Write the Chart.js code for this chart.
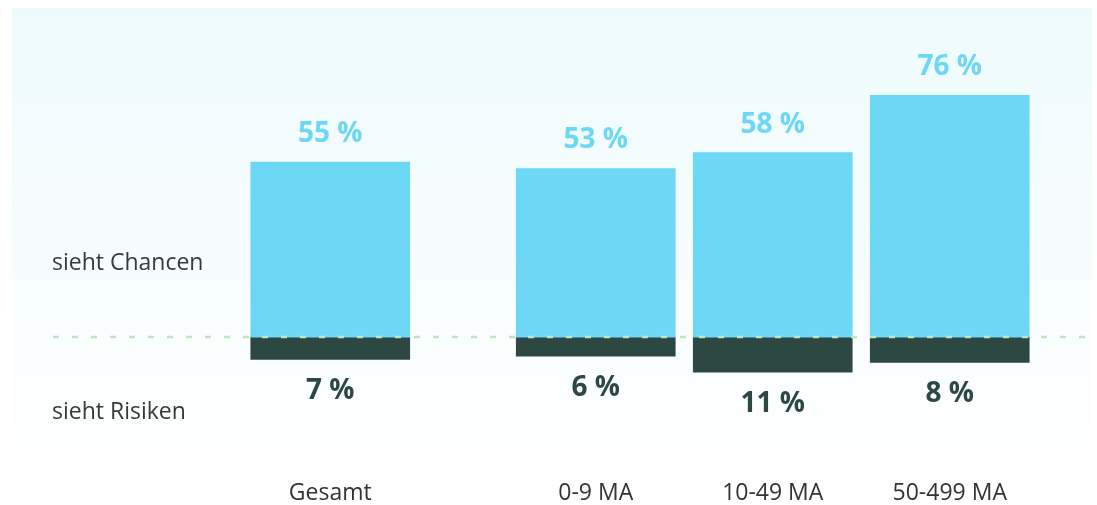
<!DOCTYPE html>
<html>
<head>
<meta charset="utf-8">
<script src="https://cdn.jsdelivr.net/npm/chart.js@4.4.1/dist/chart.umd.min.js"></script>
<style>
	html, body { margin: 0; padding: 0; background: #ffffff; }
	#chart-holder { width: 1097px; height: 505px; }
</style>
</head>
<body>
<div id="chart-holder"><canvas id="c-chancen" width="1097" height="505"></canvas></div>
<script>

let categories = ["Gesamt", "0-9 MA", "10-49 MA", "50-499 MA"];
let chancenValues = [55, 53, 58, 76];
let risikenValues = [7, 6, 11, 8];
let rowLabels = ["sieht Chancen", "sieht Risiken"];

let colorChancen = "#6dd8f6";
let colorRisiken = "#2d4843";


// half-width slots: two empty slots after "Gesamt", one between the others
let slotLabels = [];
let slotChancen = [];
let slotRisiken = [];

categories.forEach(function (cat, i) {
	slotLabels.push(cat);
	slotChancen.push(chancenValues[i]);
	slotRisiken.push(-risikenValues[i]);
	let spacers = (i == 0) ? 2 : (i < categories.length - 1 ? 1 : 0);
	for (let k = 0; k < spacers; k++) {
		slotLabels.push("");
		slotChancen.push(null);
		slotRisiken.push(null);
	}
});


let backgroundPlugin = {
	id: "panelBackground",
	beforeDraw: function (chart) {
		let ctx = chart.ctx;
		let grad = ctx.createLinearGradient(0, 8, 0, 480);
		grad.addColorStop(0, "#eefbfd");
		grad.addColorStop(1, "#ffffff");
		ctx.save();
		ctx.fillStyle = grad;
		ctx.fillRect(12, 8, 1080, 490);
		ctx.restore();
	}
};


let overlayPlugin = {
	id: "valueLabels",
	afterDatasetsDraw: function (chart) {
		let ctx = chart.ctx;
		let zeroY = chart.scales.y.getPixelForValue(0);

		ctx.save();

		// dashed zero line
		ctx.strokeStyle = "#bfe6bd";
		ctx.lineWidth = 2.5;
		ctx.setLineDash([6, 13]);
		ctx.beginPath();
		ctx.moveTo(53, zeroY);
		ctx.lineTo(1092, zeroY);
		ctx.stroke();
		ctx.setLineDash([]);

		// row labels on the left
		ctx.font = "23px 'Open Sans'";
		ctx.fillStyle = "#333b3b";
		ctx.textAlign = "left";
		ctx.textBaseline = "middle";
		ctx.fillText(rowLabels[0], 52, zeroY - 74);
		ctx.fillText(rowLabels[1], 52, zeroY + 75);

		// value labels
		ctx.font = "bold 28px 'Open Sans'";
		ctx.textAlign = "center";
		chart.data.datasets.forEach(function (ds, di) {
			let meta = chart.getDatasetMeta(di);
			meta.data.forEach(function (bar, idx) {
				let v = ds.data[idx];
				if (v === null) return;
				if (di == 0) {
					ctx.fillStyle = colorChancen;
					ctx.fillText(v + " %", bar.x, bar.y - 28);
				} else {
					ctx.fillStyle = colorRisiken;
					ctx.fillText(Math.abs(v) + " %", bar.x, bar.y + 32);
				}
			});
		});

		ctx.restore();
	}
};


let chancenChart = new Chart(document.getElementById("c-chancen"), {
	type: "bar",
	data: {
		labels: slotLabels,
		datasets: [{
			label: rowLabels[0],
			data: slotChancen,
			backgroundColor: colorChancen,
			barThickness: 159,
			clip: false
		}, {
			label: rowLabels[1],
			data: slotRisiken,
			backgroundColor: colorRisiken,
			barThickness: 159,
			clip: false
		}]
	},
	options: {
		responsive: false,
		animation: false,
		layout: {
			padding: { left: 286, right: 103, top: 19, bottom: -5 }
		},
		plugins: {
			legend: { display: false },
			tooltip: { enabled: false }
		},
		scales: {
			x: {
				stacked: true,
				grid: { display: false, drawTicks: false },
				border: { display: false },
				ticks: {
					autoSkip: false,
					maxRotation: 0,
					padding: 3,
					color: "#333333",
					font: { family: "'Open Sans'", size: 23 }
				}
			},
			y: {
				stacked: true,
				display: false,
				min: -43.8,
				max: 100
			}
		}
	},
	plugins: [backgroundPlugin, overlayPlugin]
});

</script>
</body>
</html>
